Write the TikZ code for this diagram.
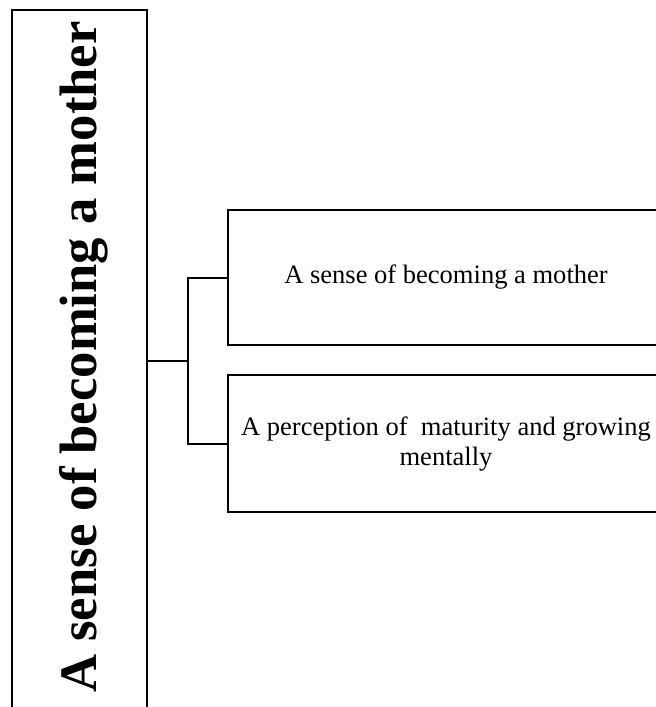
\documentclass[tikz,border=0pt]{standalone}
\usepackage{fontspec}
\setmainfont{Liberation Serif}
\begin{document}
\begin{tikzpicture}[x=0.75pt,y=-0.75pt,line width=1.5pt,
  framebox/.style={draw=black,rectangle,inner sep=0pt,line width=1.5pt},
  titletext/.style={font=\fontsize{39.5pt}{45pt}\selectfont\bfseries,inner sep=0pt},
  itemtext/.style={font=\fontsize{19.9pt}{22.5pt}\selectfont,align=center,inner sep=0pt},
  link/.style={draw=black,line width=1.5pt}]
\useasboundingbox (0,0) rectangle (656,707);
\clip (0,0) rectangle (656,707);

% tall theme box on the left (runs past the lower edge)
\node[framebox,minimum width=101.25pt,minimum height=526.5pt] (main) at (79.5,361) {};
\node[titletext,rotate=90,anchor=base] (maintext) at (96,357) {A sense of becoming a mother};

% sub-theme boxes on the right (run past the right edge)
\node[framebox,minimum width=327pt,minimum height=101.25pt] (b1) at (446,277.5) {};
\node[itemtext] (t1) at (446,277.5) {A sense of becoming a mother};
\node[framebox,minimum width=327pt,minimum height=102.75pt] (b2) at (446,443.5) {};
\node[itemtext] (t2) at (446,444.5) {A perception of\ \ maturity and growing\\mentally};

% bracket connector
\coordinate (j) at (188,361);
\draw[link] (main.east) -- (j);
\draw[link] (b1.west) -| (j) |- (b2.west);
\end{tikzpicture}
\end{document}
